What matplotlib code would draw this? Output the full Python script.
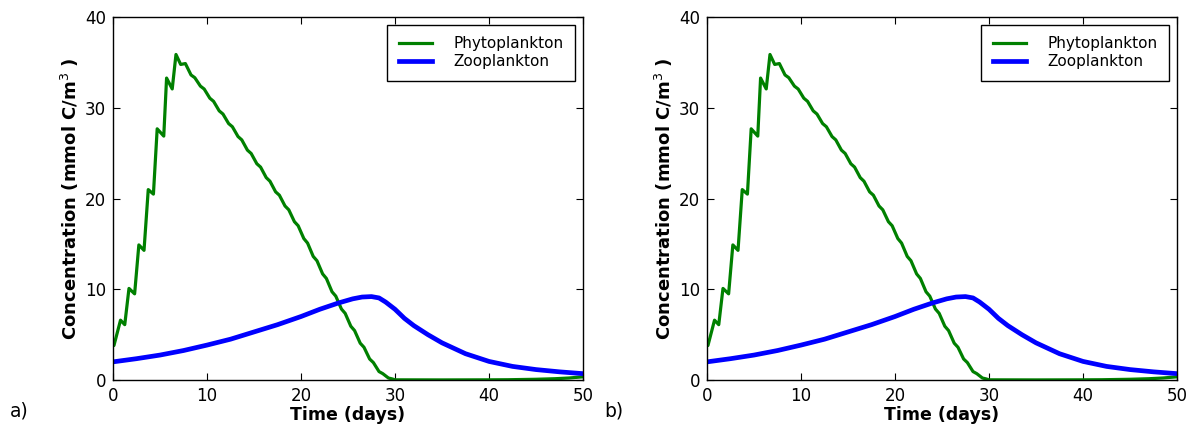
import matplotlib
matplotlib.use("Agg")
import matplotlib.pyplot as plt

# Phytoplankton: sawtooth growth with daily light cycle, then decline
phyto_t = [0.0, 0.1, 0.8, 1.25, 1.7, 2.3, 2.75, 3.3, 3.75, 4.3, 4.7, 5.4, 5.7, 6.3, 6.7,
           7.2, 7.7, 8.3, 8.7, 9.3, 9.7, 10.3, 10.7, 11.3, 11.7, 12.3, 12.7, 13.3, 13.7,
           14.3, 14.7, 15.3, 15.7, 16.3, 16.7, 17.3, 17.7, 18.3, 18.7, 19.3, 19.7,
           20.3, 20.7, 21.3, 21.7, 22.3, 22.7, 23.3, 23.7, 24.3, 24.7, 25.3, 25.7,
           26.3, 26.7, 27.3, 27.7, 28.3, 28.7, 29.3, 29.7, 30.0, 35.0, 40.0, 42.0,
           45.0, 47.0, 48.5, 50.0]
phyto_c = [3.8, 3.8, 6.6, 6.1, 10.1, 9.5, 14.9, 14.3, 21.0, 20.5, 27.7, 26.9, 33.3, 32.1, 35.9,
           34.8, 34.9, 33.64, 33.34, 32.41, 32.09, 31.08, 30.73, 29.68, 29.33, 28.28, 27.93,
           26.85, 26.48, 25.35, 24.98, 23.85, 23.48, 22.32, 21.92, 20.75, 20.38, 19.19, 18.77,
           17.46, 17.01, 15.6, 15.1, 13.63, 13.15, 11.7, 11.2, 9.73, 9.25, 7.83, 7.35,
           5.93, 5.45, 4.06, 3.61, 2.32, 1.92, 0.93, 0.7, 0.22, 0.12, 0.02, 0.01, 0.02, 0.03,
           0.08, 0.14, 0.22, 0.35]

# Zooplankton: slow growth, peak near day 27.5, then decay
zoo_t = [0, 2.5, 5, 7.5, 10, 12.5, 15, 17.5, 20, 22, 24, 25.5, 26.5, 27.5, 28.3, 29,
         30, 31, 32, 33.5, 35, 37.5, 40, 42.5, 45, 47.5, 50]
zoo_c = [2.0, 2.35, 2.75, 3.25, 3.85, 4.5, 5.3, 6.1, 7.0, 7.8, 8.5, 8.95, 9.15, 9.2, 9.05, 8.6,
         7.8, 6.8, 6.0, 5.0, 4.1, 2.9, 2.05, 1.5, 1.15, 0.9, 0.7]

panel_labels = ["a)", "b)"]
xticks = [0, 10, 20, 30, 40, 50]
yticks = [0, 10, 20, 30, 40]

fig = plt.figure(figsize=(11.96, 4.32), dpi=100)
lefts = [113 / 1196, 707 / 1196]
label_x = [0.008, 0.505]

for left, lab, lx in zip(lefts, panel_labels, label_x):
    ax = fig.add_axes([left, 1 - 380 / 432, 470 / 1196, (380 - 17.3) / 432])
    ax.plot(phyto_t, phyto_c, color="#008000", lw=2.3, label="Phytoplankton")
    ax.plot(zoo_t, zoo_c, color="#0000ff", lw=3.4, label="Zooplankton")
    ax.set_xlim(0, 50)
    ax.set_ylim(0, 40)
    ax.set_xticks(xticks)
    ax.set_yticks(yticks)
    ax.tick_params(direction="in", top=True, right=True, labelsize=12, length=5, pad=5)
    ax.set_xlabel("Time (days)", fontsize=12.5, fontweight="bold", labelpad=1)
    ax.set_ylabel("Concentration (mmol C/m$^3$ )", fontsize=13, fontweight="bold", labelpad=3)
    for sp in ax.spines.values():
        sp.set_linewidth(1.0)
    leg = ax.legend(loc="upper right", fontsize=11, fancybox=False, framealpha=1,
                    handlelength=2.2, borderpad=0.75, labelspacing=0.2, handletextpad=1.4,
                    borderaxespad=0.5)
    leg.get_frame().set_edgecolor("black")
    fig.text(lx, 0.035, lab, fontsize=13.5)

fig.savefig("out.png", dpi=100)
